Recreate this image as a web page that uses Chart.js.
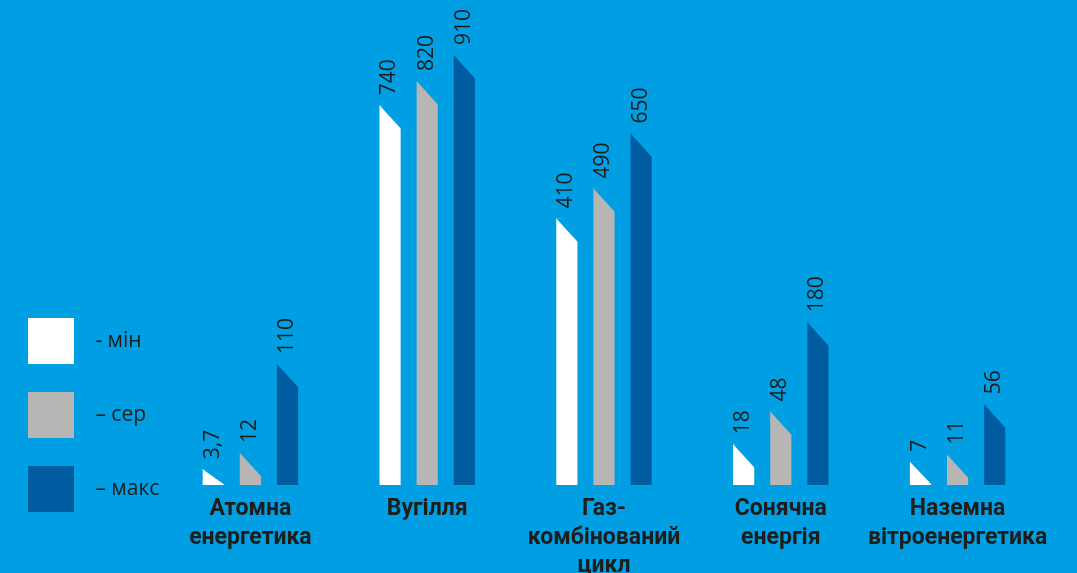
<!DOCTYPE html>
<html>
<head>
<meta charset="utf-8">
<script src="https://cdn.jsdelivr.net/npm/chart.js@4.4.0/dist/chart.umd.min.js"></script>
<style>
  html, body { margin: 0; padding: 0; background: #009fe3; }
  #wrap { width: 1077px; height: 573px; }
</style>
</head>
<body>
<div id="wrap"><canvas id="grafico"></canvas></div>
<script>
// datos
const categories = [
  ["Атомна", "енергетика"],
  ["Вугілля"],
  ["Газ-", "комбінований", "цикл"],
  ["Сонячна", "енергія"],
  ["Наземна", "вітроенергетика"]
];
const seriesNames = ["- мін", "– сер", "– макс"];
const minValues = [3.7, 740, 410, 18, 7];
const avgValues = [12, 820, 490, 48, 11];
const maxValues = [110, 910, 650, 180, 56];

const BG = "#009fe3";
const TEXT = "#1d1d1b";
const colors = ["#ffffff", "#b8b6b4", "#005ca1"];

// the original infographic is not drawn to a linear scale, so a power scale
// (value ^ 0.6) is used to get bar heights close to it
const EXPONENT = 0.6;
class PowerScale extends Chart.LinearScale {
  getPixelForValue(value) {
    if (value === null || isNaN(value)) return NaN;
    const d = Math.max(value - this.min, 0) / (this.max - this.min);
    return this.getPixelForDecimal(Math.pow(d, EXPONENT));
  }
  getValueForPixel(pixel) {
    const d = this.getDecimalForPixel(pixel);
    return this.min + (this.max - this.min) * Math.pow(Math.max(d, 0), 1 / EXPONENT);
  }
}
PowerScale.id = "power";
PowerScale.defaults = { ticks: { callback: Chart.Ticks.formatters.numeric } };
Chart.register(PowerScale);

function formatValue(v) {
  return String(v).replace(".", ",");
}

// fondo del canvas
const fondo = {
  id: "fondo",
  beforeDraw(chart) {
    const ctx = chart.ctx;
    ctx.save();
    ctx.fillStyle = BG;
    ctx.fillRect(0, 0, chart.width, chart.height);
    ctx.restore();
  }
};

// subir un poco la leyenda (queda alineada con la base de las barras)
const leyendaArriba = {
  id: "leyendaArriba",
  afterLayout(chart) {
    chart.legend.bottom -= 33;
  }
};

// corte diagonal arriba a la derecha de cada barra
const slantedTops = {
  id: "slantedTops",
  afterDatasetsDraw(chart) {
    const ctx = chart.ctx;
    ctx.save();
    ctx.fillStyle = BG;
    chart.data.datasets.forEach((ds, i) => {
      chart.getDatasetMeta(i).data.forEach(bar => {
        const left = bar.x - bar.width / 2;
        const right = bar.x + bar.width / 2 + 1;
        const low = Math.min(bar.y + (right - left) * 1.1, bar.base);
        ctx.beginPath();
        ctx.moveTo(left, bar.y);
        ctx.lineTo(right, bar.y - 1);
        ctx.lineTo(right, low);
        ctx.closePath();
        ctx.fill();
      });
    });
    ctx.restore();
  }
};

// etiquetas de valor giradas encima de cada barra
const valueLabels = {
  id: "valueLabels",
  afterDatasetsDraw(chart) {
    const ctx = chart.ctx;
    ctx.save();
    ctx.font = '21px "Open Sans"';
    ctx.fillStyle = TEXT;
    ctx.textAlign = "left";
    ctx.textBaseline = "alphabetic";
    chart.data.datasets.forEach((ds, i) => {
      chart.getDatasetMeta(i).data.forEach((bar, j) => {
        const left = bar.x - bar.width / 2;
        ctx.save();
        ctx.translate(left + 16, bar.y - 10);
        ctx.rotate(-Math.PI / 2);
        ctx.fillText(formatValue(ds.data[j]), 0, 0);
        ctx.restore();
      });
    });
    ctx.restore();
  }
};

const ctx = document.getElementById("grafico").getContext("2d");

const datos = {
  labels: categories,
  datasets: [minValues, avgValues, maxValues].map((values, i) => ({
    label: seriesNames[i],
    data: values,
    backgroundColor: colors[i],
    borderWidth: 0,
    barPercentage: 0.57,
    categoryPercentage: 0.63
  }))
};

const miGrafico = new Chart(ctx, {
  type: "bar",
  data: datos,
  plugins: [fondo, leyendaArriba, slantedTops, valueLabels],
  options: {
    responsive: true,
    maintainAspectRatio: false,
    animation: false,
    layout: { padding: { top: 55, right: 31, bottom: 0, left: 0 } },
    plugins: {
      tooltip: { enabled: false },
      legend: {
        position: "left",
        align: "end",
        fullSize: true,
        maxWidth: 162,
        labels: {
          boxWidth: 46,
          boxHeight: 46,
          padding: 28,
          color: TEXT,
          font: { family: '"Open Sans", sans-serif', size: 21 },
          generateLabels: chart => chart.data.datasets.map((ds, i) => ({
            text: "  " + ds.label,
            fillStyle: ds.backgroundColor,
            strokeStyle: ds.backgroundColor,
            lineWidth: 0,
            fontColor: TEXT,
            hidden: false,
            datasetIndex: i
          }))
        }
      }
    },
    scales: {
      x: {
        grid: { display: false, drawTicks: false },
        border: { display: false },
        ticks: {
          color: TEXT,
          font: { family: "Roboto", weight: "bold", size: 23, lineHeight: 1.24 },
          padding: 10,
          maxRotation: 0,
          autoSkip: false
        },
        afterFit(scale) {
          scale.height = 88;
        }
      },
      y: {
        type: "power",
        display: false,
        min: 0,
        max: 910
      }
    }
  }
});
</script>
</body>
</html>
